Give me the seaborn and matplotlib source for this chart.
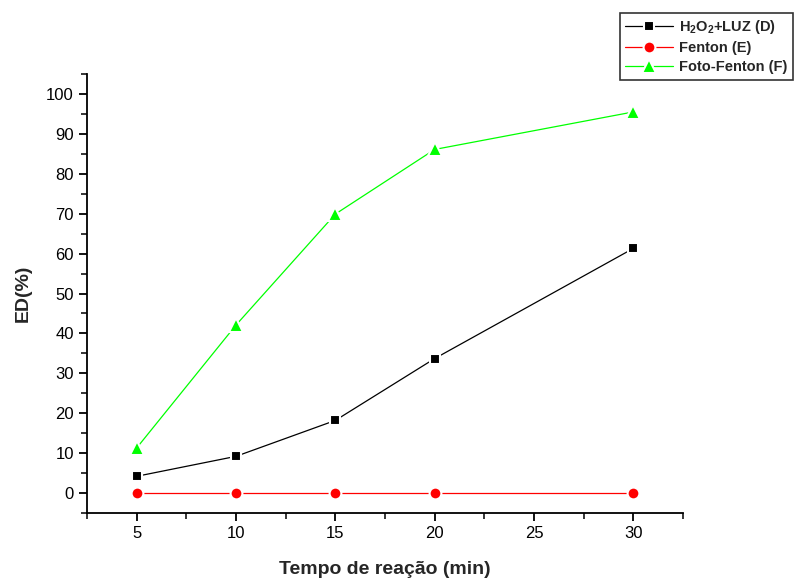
import matplotlib
matplotlib.use("Agg")
import matplotlib.pyplot as plt
import seaborn as sns
import pandas as pd
from matplotlib.ticker import MultipleLocator

tempo = [5, 10, 15, 20, 30]
h2o2_luz = [4.2, 9.2, 18.2, 33.7, 61.3]
fenton = [0.1, 0.1, 0.1, 0.1, 0.1]
foto_fenton = [11.3, 42.1, 69.9, 86.1, 95.5]

labels = [r"H$_2$O$_2$+LUZ (D)", "Fenton (E)", "Foto-Fenton (F)"]
colors = ["#000000", "#ff0000", "#00ff00"]
markers = ["s", "o", "^"]
msizes = [7.5, 8.5, 10.5]

sns.set_style("ticks")
plt.rcParams["font.family"] = ["Liberation Sans", "DejaVu Sans"]
plt.rcParams["mathtext.default"] = "regular"

df = pd.DataFrame({
    "t": tempo * 3,
    "ed": h2o2_luz + fenton + foto_fenton,
    "serie": [labels[0]] * 5 + [labels[1]] * 5 + [labels[2]] * 5,
})

fig = plt.figure(figsize=(7.96, 5.81), dpi=100)
ax = fig.add_axes([0.1093, 0.117, 0.858 - 0.1093, 0.8726 - 0.117])

for lab, c, m, ms in zip(labels, colors, markers, msizes):
    sub = df[df["serie"] == lab]
    sns.lineplot(data=sub, x="t", y="ed", ax=ax, color=c, marker=m,
                 markersize=ms, markeredgecolor="white", markeredgewidth=1.5,
                 linewidth=0.9, label=lab, legend=False)

ax.set_xlim(2.5, 32.5)
ax.set_ylim(-5, 105)
ax.xaxis.set_minor_locator(MultipleLocator(2.5))
ax.yaxis.set_minor_locator(MultipleLocator(5))
ax.set_xticks([5, 10, 15, 20, 25, 30])
ax.set_yticks(list(range(0, 101, 10)))
for s in ["top", "right"]:
    ax.spines[s].set_visible(False)
for s in ["left", "bottom"]:
    ax.spines[s].set_linewidth(1.3)
    ax.spines[s].set_color("black")
ax.tick_params(which="major", direction="out", length=6, width=1.3,
               labelsize=12, colors="black")
ax.tick_params(which="minor", direction="out", length=4, width=1.3)
ax.set_xlabel("Tempo de reação (min)", fontsize=14, fontweight="bold", labelpad=14)
ax.set_ylabel("ED(%)", fontsize=14, fontweight="bold", labelpad=10)

h, l = ax.get_legend_handles_labels()
leg = fig.legend(h, l, loc="upper left", bbox_to_anchor=(0.770, 0.99),
                 frameon=True, fancybox=False, edgecolor="black",
                 prop={"weight": "bold", "size": 10.5}, handlelength=3.3,
                 borderpad=0.35, labelspacing=0.35, handletextpad=0.4)
leg.get_frame().set_linewidth(1.2)

fig.savefig("out.png", dpi=100)
